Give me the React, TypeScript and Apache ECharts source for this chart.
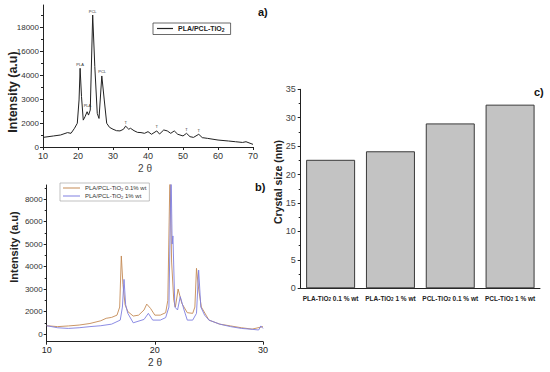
import React, { useEffect, useRef } from "react";
import * as echarts from "echarts";

// ---------- Panel a: XRD of PLA/PCL-TiO2 ----------
const aTheta = [10, 13, 15, 17, 18, 19, 19.8, 20.3, 20.6, 21, 21.5, 22, 22.6, 23, 23.5, 24.2, 24.8, 25.5, 26, 26.8, 27.5, 28.2, 29, 30, 31, 32, 33, 33.6, 34.5, 35, 36, 37, 38, 39, 40, 41, 42.5, 43.3, 44.5, 45.5, 46.5, 47.5, 48.5, 50, 51, 52, 53, 54.5, 55.5, 57, 60, 63, 65, 67, 68, 70];
const aIntensity = [400, 460, 500, 600, 570, 780, 990, 1960, 3280, 2100, 1120, 1260, 1470, 1330, 1540, 5500, 3350, 1400, 1190, 2960, 1960, 990, 820, 740, 680, 670, 740, 870, 740, 780, 680, 610, 600, 570, 640, 530, 670, 540, 710, 670, 570, 670, 530, 460, 570, 430, 400, 530, 390, 360, 290, 250, 220, 190, 220, 110];
const aTickValues = [0, 1000, 2000, 3000, 4000, 5000];
const aTickLabels = ["0", "2000", "3000", "4000", "16000", "18000"];
const aMinorTicks = [500, 1500, 2500, 3500, 4500, 5500];
const aPeakNames = ["PLA", "PLA", "PCL", "PCL", "T", "T", "T", "T"];
const aPeakTheta = [20.6, 22.7, 24.2, 26.9, 33.6, 42.5, 51, 54.5];
const aPeakIntensity = [3280, 1550, 5500, 2960, 870, 670, 570, 530];

// ---------- Panel b: XRD at two TiO2 loadings ----------
const bThetaLow = [10, 11, 12, 13, 14, 15, 15.5, 16, 16.5, 16.75, 16.9, 17.05, 17.25, 17.5, 18, 18.5, 19, 19.25, 19.6, 20, 20.5, 21, 21.2, 21.4, 21.55, 21.75, 21.9, 22.15, 22.5, 23, 23.5, 23.7, 23.85, 24.05, 24.3, 25, 26, 27, 28, 29, 30];
const bIntLow = [370, 330, 360, 400, 470, 590, 700, 740, 840, 1200, 3470, 2200, 1300, 1000, 800, 840, 1070, 1330, 1140, 840, 840, 950, 1500, 7200, 3200, 1500, 1200, 2000, 1360, 950, 920, 1200, 2920, 2000, 1200, 620, 440, 360, 280, 220, 330];
const bThetaHigh = [10, 11, 12, 13, 14, 15, 16, 16.8, 17.0, 17.15, 17.3, 17.5, 18, 19, 19.4, 19.8, 20.5, 21, 21.3, 21.5, 21.6, 21.67, 21.85, 22.1, 22.35, 22.7, 23, 23.5, 23.85, 24.05, 24.25, 24.6, 25, 26, 27, 28, 29, 29.6, 29.8, 30];
const bIntHigh = [370, 280, 250, 280, 330, 370, 440, 620, 1200, 2430, 1300, 920, 500, 650, 920, 620, 620, 730, 1200, 7200, 4000, 4360, 1200, 1070, 1660, 1070, 620, 620, 920, 2840, 1200, 840, 620, 440, 330, 250, 210, 180, 360, 250];
const bTickValues = [0, 1000, 2000, 3000, 4000, 5000, 6000];
const bTickLabels = ["0", "2000", "3000", "4000", "5000", "6000", "8000"];
const bMinorTicks = [500, 1500, 2500, 3500, 4500, 5500, 6500];

// ---------- Panel c: crystal size ----------
const cCategories = ["PLA-TiO2 0.1 % wt", "PLA-TiO2 1 % wt", "PCL-TiO2 0.1 % wt", "PCL-TiO2 1 % wt"];
const cSizes = [22.6, 24.1, 29.0, 32.3];

const seriesNames = ["PLA/PCL-TiO2", "PLA/PCL-TiO2 0.1% wt", "PLA/PCL-TiO2 1% wt"];

const FONT = "'Liberation Sans', Arial, sans-serif";
const sub = (s: string) => s.replace("TiO2", "TiO{s|2}");

export default function App() {
  const ref = useRef<HTMLDivElement>(null);
  useEffect(() => {
    document.body.style.margin = "0";
    if (!ref.current) return;
    const chart = echarts.init(ref.current, null, { renderer: "svg" });
    const axisLine = { lineStyle: { color: "#222", width: 1 } };
    const label = (size: number, margin: number) => ({ fontSize: size, color: "#333", margin, fontFamily: FONT });
    const pair = (xs: number[], ys: number[]) => xs.map((x, i) => [x, ys[i]]);

    chart.setOption({
      animation: false,
      textStyle: { fontFamily: FONT },
      grid: [
        { left: 43, top: 5, width: 210, height: 142 },
        { left: 46.7, top: 185, width: 216.3, height: 156.7 },
        { left: 300.7, top: 89.3, width: 239.3, height: 199 },
      ],
      xAxis: [
        {
          type: "value", gridIndex: 0, min: 10, max: 70, interval: 10,
          axisLine: { ...axisLine, onZero: false }, axisTick: { length: 3, lineStyle: { color: "#222" } },
          axisLabel: label(9, 4), splitLine: { show: false },
        },
        {
          type: "value", gridIndex: 1, min: 10, max: 30, interval: 10,
          axisLine: { ...axisLine, onZero: false }, axisTick: { length: 3, lineStyle: { color: "#222" } },
          axisLabel: { ...label(9, 4), color: "#222" }, splitLine: { show: false },
        },
        {
          type: "category", gridIndex: 2, data: cCategories,
          axisLine: { ...axisLine, onZero: false }, axisTick: { alignWithLabel: true, length: 3, lineStyle: { color: "#222" } },
          axisLabel: {
            interval: 0, fontSize: 6.5, fontWeight: "bold", color: "#222", margin: 6, fontFamily: FONT,
            formatter: (v: string) => sub(v),
            rich: { s: { fontSize: 4.5, fontWeight: "bold", color: "#222", padding: [3, 0, 0, 0] } },
          },
        },
      ],
      yAxis: [
        {
          type: "value", gridIndex: 0, position: "left", min: 0, max: 5917,
          axisLine: { show: true, ...axisLine, onZero: false },
          axisTick: { show: true, length: 3, customValues: aTickValues, lineStyle: { color: "#222" } },
          axisLabel: { ...label(8, 4), customValues: aTickValues, formatter: (v: number) => aTickLabels[aTickValues.indexOf(v)] ?? "" },
          splitLine: { show: false },
        },
        {
          type: "value", gridIndex: 0, position: "left", min: 0, max: 5917,
          axisLine: { show: false }, axisLabel: { show: false }, splitLine: { show: false },
          axisTick: { show: true, length: 2, customValues: aMinorTicks, lineStyle: { color: "#222" } },
        },
        {
          type: "value", gridIndex: 1, position: "left", min: -340, max: 6624,
          axisLine: { show: true, ...axisLine, onZero: false },
          axisTick: { show: true, length: 3, customValues: bTickValues, lineStyle: { color: "#222" } },
          axisLabel: { ...label(8, 4), customValues: bTickValues, formatter: (v: number) => bTickLabels[bTickValues.indexOf(v)] ?? "" },
          splitLine: { show: false },
        },
        {
          type: "value", gridIndex: 1, position: "left", min: -340, max: 6624,
          axisLine: { show: false }, axisLabel: { show: false }, splitLine: { show: false },
          axisTick: { show: true, length: 2, customValues: bMinorTicks, lineStyle: { color: "#222" } },
        },
        {
          type: "value", gridIndex: 2, position: "left", min: 0, max: 35, interval: 5,
          axisLine: { show: true, ...axisLine, onZero: false },
          axisTick: { show: true, length: 3, lineStyle: { color: "#222" } },
          minorTick: { show: true, splitNumber: 2, length: 2, lineStyle: { color: "#222" } },
          axisLabel: { ...label(9, 5), color: "#444" },
          splitLine: { show: false },
        },
      ],
      legend: [
        {
          data: [seriesNames[0]], left: 153, top: 23, orient: "vertical",
          icon: "rect", itemWidth: 16, itemHeight: 1.2, itemGap: 2,
          borderColor: "#444", borderWidth: 0.8, padding: [2, 6, 2, 4],
          formatter: (n: string) => sub(n),
          textStyle: {
            fontSize: 7, fontWeight: "bold", color: "#222", fontFamily: FONT,
            rich: { s: { fontSize: 5, fontWeight: "bold", color: "#222", padding: [3, 0, 0, 0] } },
          },
        },
        {
          data: [seriesNames[1], seriesNames[2]], left: 60, top: 183, orient: "vertical",
          icon: "rect", itemWidth: 17, itemHeight: 1, itemGap: 2,
          borderColor: "#999", borderWidth: 0.6, padding: [2, 3, 2, 3],
          formatter: (n: string) => sub(n),
          textStyle: {
            fontSize: 6, color: "#333", fontFamily: FONT,
            rich: { s: { fontSize: 4, color: "#333", padding: [2, 0, 0, 0] } },
          },
        },
      ],
      series: [
        {
          name: seriesNames[0], type: "line", xAxisIndex: 0, yAxisIndex: 0,
          data: pair(aTheta, aIntensity), symbol: "none", color: "#222",
          lineStyle: { width: 1, color: "#222" },
          markPoint: {
            symbol: "circle", symbolSize: 0,
            label: { show: true, position: "top", distance: 2, fontSize: 4, color: "#333", formatter: "{b}" },
            data: aPeakNames.map((n, i) => ({ name: n, coord: [aPeakTheta[i], aPeakIntensity[i]] })),
          },
        },
        {
          name: seriesNames[1], type: "line", xAxisIndex: 1, yAxisIndex: 2,
          data: pair(bThetaLow, bIntLow), symbol: "none", color: "#c48a55",
          lineStyle: { width: 0.9, color: "#c48a55" },
        },
        {
          name: seriesNames[2], type: "line", xAxisIndex: 1, yAxisIndex: 2,
          data: pair(bThetaHigh, bIntHigh), symbol: "none", color: "#7f7fe0",
          lineStyle: { width: 0.9, color: "#7f7fe0" },
        },
        {
          name: "Crystal size", type: "bar", xAxisIndex: 2, yAxisIndex: 4,
          data: cSizes, barWidth: 49,
          itemStyle: { color: "#c3c3c3", borderColor: "#3a3a3a", borderWidth: 1 },
        },
      ],
      graphic: [
        { type: "text", x: 13, y: 92, rotation: Math.PI / 2, style: { text: "Intensity (a.u)", fontSize: 12.5, fontWeight: "bold", fill: "#222", align: "center", verticalAlign: "middle", fontFamily: FONT } },
        { type: "text", x: 14, y: 247, rotation: Math.PI / 2, style: { text: "Intensity (a.u)", fontSize: 11, fontWeight: "bold", fill: "#222", align: "center", verticalAlign: "middle", fontFamily: FONT } },
        { type: "text", x: 278, y: 182, rotation: Math.PI / 2, style: { text: "Crystal size (nm)", fontSize: 10.5, fontWeight: "bold", fill: "#222", align: "center", verticalAlign: "middle", fontFamily: FONT } },
        { type: "text", x: 145, y: 168, style: { text: "2 θ", fontSize: 10, fill: "#444", align: "center", verticalAlign: "middle", fontFamily: FONT } },
        { type: "text", x: 155, y: 362, style: { text: "2 θ", fontSize: 10, fill: "#333", align: "center", verticalAlign: "middle", fontFamily: FONT } },
        { type: "text", x: 258, y: 12, style: { text: "a)", fontSize: 11, fontWeight: "bold", fill: "#111", align: "left", verticalAlign: "middle", fontFamily: FONT } },
        { type: "text", x: 255, y: 187, style: { text: "b)", fontSize: 11, fontWeight: "bold", fill: "#111", align: "left", verticalAlign: "middle", fontFamily: FONT } },
        { type: "text", x: 534, y: 92, style: { text: "c)", fontSize: 11, fontWeight: "bold", fill: "#111", align: "left", verticalAlign: "middle", fontFamily: FONT } },
      ],
    });
    return () => chart.dispose();
  }, []);
  return <div ref={ref} style={{ width: 550, height: 372 }} />;
}
